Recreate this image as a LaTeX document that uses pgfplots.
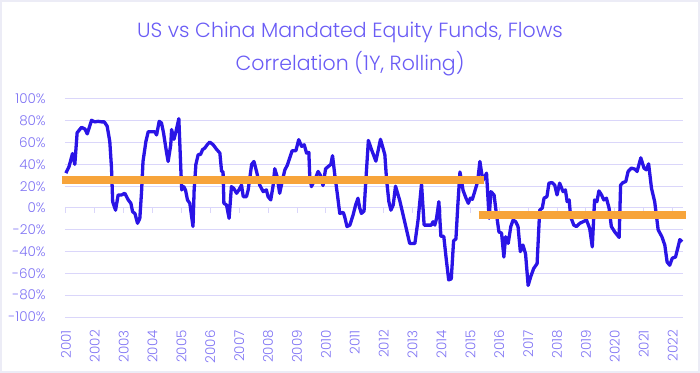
\documentclass[border=0pt]{standalone}
\usepackage{pgfplots}
\pgfplotsset{compat=1.18}
\usepackage{pgfplotstable}
\usepackage{fontspec}
\IfFontExistsTF{Poppins Light}{\setmainfont{Poppins Light}}{\setmainfont{Poppins}}
\definecolor{titlecol}{HTML}{6A5CF5}
\definecolor{labcol}{HTML}{8074F4}
\definecolor{gridcol}{HTML}{DAD6FA}
\definecolor{linecol}{HTML}{2A14E6}
\definecolor{orangecol}{HTML}{F7A43A}
\definecolor{framecol}{HTML}{ECECF6}

\pgfplotstableread{
year val
2001.00 32
2001.11 38
2001.23 50
2001.31 40
2001.39 69
2001.54 74
2001.66 72.5
2001.74 68
2001.89 80.5
2002.00 79
2002.12 79.5
2002.24 79
2002.33 79
2002.43 75
2002.52 61
2002.58 36.6
2002.62 5.8
2002.72 -2
2002.81 12
2002.93 12
2003.04 13.5
2003.16 7.4
2003.25 4.3
2003.31 -3.4
2003.39 -5
2003.48 -14
2003.56 -9.5
2003.62 15
2003.67 42.7
2003.77 61
2003.85 70
2003.97 70
2004.08 70
2004.14 67
2004.23 79.5
2004.31 78
2004.38 69
2004.49 50
2004.54 42.7
2004.63 58
2004.66 72
2004.74 63
2004.81 70
2004.91 82
2004.98 35
2005.01 16.6
2005.08 19.6
2005.14 16.6
2005.21 7.4
2005.29 4.3
2005.40 -17
2005.44 16.6
2005.50 40
2005.58 49
2005.66 49
2005.73 53.5
2005.81 55
2005.89 58
2005.98 60.5
2006.10 58
2006.21 54
2006.33 50.4
2006.39 33.5
2006.44 33.5
2006.47 4.3
2006.56 2.8
2006.65 -9.5
2006.73 19.6
2006.81 18
2006.91 13.5
2006.99 16.6
2007.08 21
2007.14 10.4
2007.25 10.4
2007.31 16.6
2007.43 40
2007.51 42.7
2007.60 33.5
2007.71 21
2007.83 15
2007.94 16.6
2008.00 10.4
2008.09 7.4
2008.17 20
2008.23 36
2008.31 29
2008.40 13.5
2008.50 26
2008.58 35
2008.66 39
2008.75 46
2008.83 52.5
2008.96 52.5
2009.06 62.7
2009.16 56.5
2009.25 58
2009.33 50.4
2009.41 51
2009.44 30
2009.50 19.6
2009.56 22.8
2009.65 28
2009.73 33.5
2009.81 30
2009.90 20.6
2009.99 36
2010.08 38
2010.17 40
2010.23 48
2010.31 30
2010.40 12
2010.48 -5
2010.60 -4
2010.65 -8
2010.73 -17
2010.83 -15.7
2010.94 -6.5
2011.03 2.8
2011.11 9
2011.17 0
2011.23 -5
2011.32 -2.8
2011.38 24
2011.47 62
2011.58 53.5
2011.73 43
2011.89 63
2012.04 49
2012.10 26
2012.18 5.8
2012.25 -2
2012.33 2.8
2012.41 20
2012.56 6.5
2012.73 -13
2012.90 -32.5
2013.08 -32.5
2013.19 -11
2013.31 22
2013.40 -15.7
2013.54 -15.7
2013.65 -15.7
2013.71 -12.6
2013.77 -15.7
2013.83 -9.5
2013.91 5.8
2013.98 -26
2014.08 -26
2014.17 -48
2014.25 -66
2014.34 -65
2014.42 -30
2014.50 -28.5
2014.57 4.3
2014.64 33
2014.75 16
2014.85 9
2014.93 4.3
2015.00 9
2015.07 8
2015.15 15
2015.25 24
2015.33 42.7
2015.43 25
2015.56 32
2015.65 -9.5
2015.71 15
2015.82 12
2015.90 -5
2015.99 -22
2016.08 -23
2016.16 -45
2016.22 -26.4
2016.31 -32.5
2016.40 -17
2016.48 -11
2016.57 -12.6
2016.65 -17
2016.73 -40
2016.82 -34
2016.91 -42
2017.00 -71
2017.09 -63
2017.19 -55.6
2017.31 -51
2017.40 -2
2017.49 0
2017.55 9
2017.65 10.4
2017.72 22.8
2017.83 23.3
2017.92 21
2018.00 12
2018.09 22.8
2018.21 15
2018.29 16.6
2018.35 5.8
2018.42 7.4
2018.47 -8
2018.58 -15.7
2018.67 -17
2018.79 -14
2018.90 -12.6
2019.02 -11
2019.13 -18.7
2019.22 -35.7
2019.30 7.4
2019.38 5.8
2019.45 15.7
2019.54 12
2019.62 7.4
2019.71 9
2019.80 0
2019.88 -17
2020.00 -22
2020.15 -27
2020.20 21
2020.28 23.3
2020.38 24.3
2020.46 33.5
2020.57 36.6
2020.69 35.7
2020.77 33.5
2020.90 46
2021.01 36.6
2021.09 35
2021.17 40.5
2021.27 18
2021.38 5.8
2021.50 -20
2021.63 -26.4
2021.73 -34
2021.81 -49.5
2021.90 -52.5
2021.99 -46
2022.10 -45
2022.19 -35.7
2022.25 -29
2022.33 -31
}\corrdata

\begin{document}
\begin{tikzpicture}
\useasboundingbox (0bp,0bp) rectangle (700bp,373bp);
\draw[framecol, line width=2bp] (1bp,1bp) rectangle (699bp,372bp);
\node[anchor=base, text=titlecol, inner sep=0pt, font=\fontsize{20.5bp}{23bp}\selectfont] at (350bp,335.7bp) {US vs China Mandated Equity Funds, Flows};
\node[anchor=base, text=titlecol, inner sep=0pt, font=\fontsize{20.5bp}{23bp}\selectfont] at (350bp,302.3bp) {Correlation (1Y, Rolling)};
\begin{axis}[
  at={(65bp,56bp)}, anchor=south west,
  width=618bp, height=218bp, scale only axis,
  xmin=2000.97, xmax=2022.36, ymin=-100, ymax=100,
  clip=false,
  axis line style={draw=none},
  major tick style={draw=none},
  major tick length=0pt,
  ymajorgrids,
  grid style={gridcol, line width=1bp},
  ytick={-100,-80,-60,-40,-20,0,20,40,60,80,100},
  yticklabels={-100\%,-80\%,-60\%,-40\%,-20\%,0\%,20\%,40\%,60\%,80\%,100\%},
  xtick={2001,2002,2003,2004,2005,2006,2007,2008,2009,2010,2011,2012,2013,2014,2015,2016,2017,2018,2019,2020,2021,2022},
  xticklabels={2001,2002,2003,2004,2005,2006,2007,2008,2009,2010,2011,2012,2013,2014,2015,2016,2017,2018,2019,2020,2021,2022},
  tick label style={font=\fontsize{13.5bp}{16bp}\selectfont, text=labcol, inner sep=0pt},
  xticklabel style={yshift=-4bp, rotate=90, anchor=east},
  yticklabel style={xshift=-3bp, anchor=east},
  xticklabel shift=9bp,
  yticklabel shift=16bp,
]
\addplot[gridcol, line width=1bp, ycomb, no marks] coordinates {
(2001,-4.6) (2002,-4.6) (2003,-4.6) (2004,-4.6) (2005,-4.6) (2006,-4.6) (2007,-4.6) (2008,-4.6) (2009,-4.6) (2010,-4.6) (2011,-4.6)
(2012,-4.6) (2013,-4.6) (2014,-4.6) (2015,-4.6) (2016,-4.6) (2017,-4.6) (2018,-4.6) (2019,-4.6) (2020,-4.6) (2021,-4.6) (2022,-4.6)};
\addplot[linecol, line width=3.3bp, line join=round, no marks] table[x=year, y=val] {\corrdata};
\addplot[orangecol, line width=8bp, no marks] coordinates {(2000.85,25.5) (2015.46,25.5)};
\addplot[orangecol, line width=8bp, no marks] coordinates {(2015.29,-6.5) (2022.45,-6.5)};
\end{axis}
\end{tikzpicture}
\end{document}
